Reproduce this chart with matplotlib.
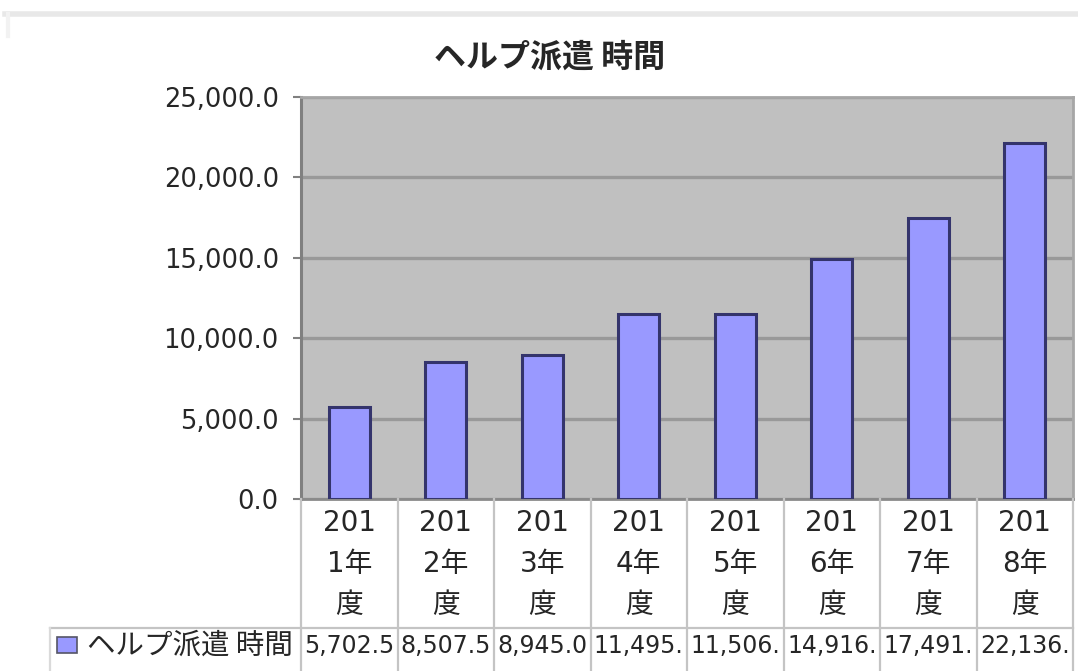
import matplotlib
matplotlib.use('Agg')
import matplotlib.pyplot as plt
from matplotlib.patches import Rectangle
from matplotlib.lines import Line2D
from matplotlib.transforms import blended_transform_factory

# ヘルプ派遣 時間（年度別）
series_name = 'ヘルプ派遣 時間'
years = ['2011年度', '2012年度', '2013年度', '2014年度',
         '2015年度', '2016年度', '2017年度', '2018年度']
hours = [5702.5, 8507.5, 8945.0, 11495.0, 11506.0, 14916.0, 17491.5, 22136.0]
y_ticks = [0, 5000, 10000, 15000, 20000, 25000]

W, H = 1078, 671
cjk = ['Noto Sans CJK JP', 'DejaVu Sans']
num = ['DejaVu Sans', 'Noto Sans CJK JP']
ink = '#262626'
table_line = '#c4c4c4'


def fx(px):
    return px / W


def fy(py):
    return 1 - py / H


fig = plt.figure(figsize=(W / 100, H / 100), dpi=100)
fig.patch.set_facecolor('white')

# plot area
ax = fig.add_axes([fx(301), fy(499), fx(1073) - fx(301), fy(97) - fy(499)])
ax.set_facecolor('#c0c0c0')
ax.set_axisbelow(True)
x = list(range(len(hours)))
ax.bar(x, hours, width=0.43, color='#9999ff', edgecolor='#34346c', linewidth=2.2, zorder=3)
ax.set_xlim(-0.5, len(hours) - 0.5)
ax.set_ylim(0, 25000)
ax.set_yticks(y_ticks)
ax.set_yticklabels([f'{v:,.1f}' for v in y_ticks], fontsize=18.5, family=num, color=ink)
ax.yaxis.grid(True, color='#999999', linewidth=2.4)
ax.tick_params(axis='y', length=6, width=1.5, color='#808080', pad=10)
ax.tick_params(axis='x', length=0, labelbottom=False)
ax.spines['left'].set_color('#808080')
ax.spines['left'].set_linewidth(2.2)
ax.spines['bottom'].set_color('#8a8a8a')
ax.spines['bottom'].set_linewidth(2.0)
for s in ('top', 'right'):
    ax.spines[s].set_color('#a6a6a6')
    ax.spines[s].set_linewidth(2.0)

# title
fig.text(fx(550), fy(58), series_name, ha='center', va='center',
         fontsize=23, family=cjk, fontweight='bold', color=ink)

# data table under the plot
tr = blended_transform_factory(ax.transData, fig.transFigure)
for i in range(len(hours) + 1):
    fig.add_artist(Line2D([i - 0.5, i - 0.5], [fy(499), fy(671)], transform=tr,
                          color=table_line, linewidth=1.6))
fig.add_artist(Line2D([fx(50), fx(1073)], [fy(628), fy(628)], transform=fig.transFigure,
                      color=table_line, linewidth=1.6))
fig.add_artist(Line2D([fx(50), fx(50)], [fy(628), fy(671)], transform=fig.transFigure,
                      color='#dadada', linewidth=1.6))

for i, (yr, v) in enumerate(zip(years, hours)):
    parts = [yr[:3], yr[3:5], yr[5:]]
    for part, py in zip(parts, (523, 564, 605)):
        fig.text(i, fy(py), part, transform=tr, ha='center', va='center',
                 fontsize=20, family=num, color=ink)
    # the cell is too narrow for the full number, so it is cut off
    fig.text(i, fy(646), f'{v:,.1f}'[:7], transform=tr, ha='center', va='center',
             fontsize=17, family=num, color=ink)

# legend key + series name in the first table column
fig.add_artist(Rectangle((fx(57), fy(653)), fx(77) - fx(57), fy(637) - fy(653),
                         transform=fig.transFigure, facecolor='#9999ff',
                         edgecolor='#555566', linewidth=1.2))
fig.text(fx(87), fy(646), series_name, ha='left', va='center',
         fontsize=20.5, family=cjk, color=ink)

# faint chart-area border
fig.add_artist(Line2D([fx(5), fx(W)], [fy(14), fy(14)], transform=fig.transFigure,
                      color='#e8e8e8', linewidth=4))
fig.add_artist(Line2D([fx(8), fx(8)], [fy(14), fy(36)], transform=fig.transFigure,
                      color='#f2f2f2', linewidth=3))

fig.savefig('out.png', dpi=100, facecolor='white')
